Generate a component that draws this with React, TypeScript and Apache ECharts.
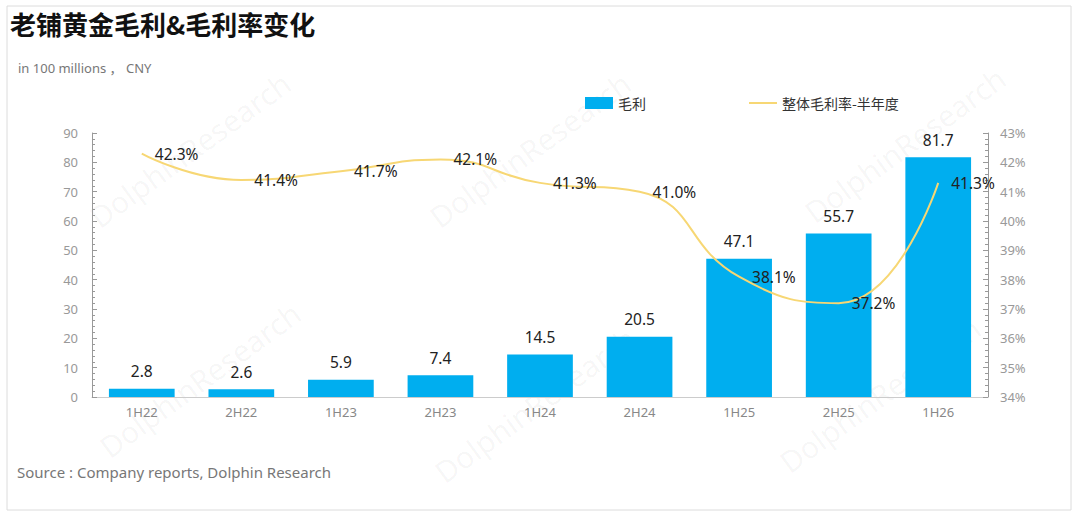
import React, { useEffect, useRef } from "react";
import * as echarts from "echarts";

const categories = ["1H22", "2H22", "1H23", "2H23", "1H24", "2H24", "1H25", "2H25", "1H26"];
const grossProfit = [2.8, 2.6, 5.9, 7.4, 14.5, 20.5, 47.1, 55.7, 81.7];
const grossMargin = [42.3, 41.4, 41.7, 42.1, 41.3, 41.0, 38.1, 37.2, 41.3];
const seriesNames = ["毛利", "整体毛利率-半年度"];

const watermarks = [
  [190, 150], [530, 150], [905, 145], [200, 380], [535, 405], [880, 395],
];

export default function App() {
  const ref = useRef<HTMLDivElement>(null);
  useEffect(() => {
    document.body.style.margin = "0";
    const chart = echarts.init(ref.current!, null, { renderer: "svg" });
    const font = "'Noto Sans', 'Noto Sans CJK SC', sans-serif";
    chart.setOption({
      animation: false,
      textStyle: { fontFamily: font },
      title: [
        {
          text: "老铺黄金毛利&毛利率变化",
          left: 10,
          top: 10,
          padding: 0,
          textStyle: { fontSize: 26, fontWeight: "bold", color: "#111", fontFamily: "'Noto Sans CJK SC', sans-serif" },
        },
        {
          text: "in 100 millions ， CNY",
          left: 18,
          top: 61,
          padding: 0,
          textStyle: { fontSize: 13, fontWeight: "normal", color: "#777", fontFamily: font },
        },
        {
          text: "Source : Company reports, Dolphin Research",
          left: 17,
          top: 464,
          padding: 0,
          textStyle: { fontSize: 15, fontWeight: "normal", color: "#777", fontFamily: font },
        },
      ],
      legend: {
        top: 96,
        left: 585,
        padding: 0,
        itemGap: 102,
        itemWidth: 28,
        itemHeight: 12,
        textStyle: { fontSize: 14, color: "#333", fontFamily: "'Noto Sans CJK SC', sans-serif" },
        data: [
          { name: seriesNames[0], icon: "rect" },
          { name: seriesNames[1], itemStyle: { opacity: 0 } },
        ],
      },
      graphic: [
        {
          type: "rect",
          shape: { x: 7, y: 6, width: 1064, height: 504 },
          style: { fill: "none", stroke: "#dcdcdc", lineWidth: 1 },
          silent: true,
          z: -10,
        },
        ...watermarks.map(([x, y]) => ({
          type: "text",
          x,
          y,
          rotation: Math.PI / 5,
          style: {
            text: "DolphinResearch",
            fill: "rgba(0,0,0,0.045)",
            fontSize: 30,
            fontFamily: font,
            align: "center",
            verticalAlign: "middle",
          },
          silent: true,
          z: -5,
        })),
      ],
      grid: { left: 92, right: 92, top: 133, bottom: 118 },
      xAxis: {
        type: "category",
        data: categories,
        axisLine: { lineStyle: { color: "#cccccc" } },
        axisTick: { show: false },
        axisLabel: { color: "#888", fontSize: 13, margin: 8 },
      },
      yAxis: [
        {
          type: "value",
          min: 0,
          max: 90,
          interval: 10,
          splitLine: { show: false },
          axisLine: { show: true, lineStyle: { color: "#999" } },
          axisTick: { show: true, inside: true, length: 5, lineStyle: { color: "#999" } },
          minorTick: { show: true, splitNumber: 5, length: 3, lineStyle: { color: "#999" } },
          axisLabel: { color: "#999", fontSize: 13, margin: 14 },
        },
        {
          type: "value",
          min: 34,
          max: 43,
          interval: 1,
          splitLine: { show: false },
          axisLine: { show: true, lineStyle: { color: "#999" } },
          axisTick: { show: true, inside: true, length: 5, lineStyle: { color: "#999" } },
          minorTick: { show: true, splitNumber: 5, length: 3, lineStyle: { color: "#999" } },
          axisLabel: { color: "#999", fontSize: 13, margin: 12, formatter: "{value}%" },
        },
      ],
      series: [
        {
          name: seriesNames[0],
          type: "bar",
          data: grossProfit,
          barWidth: "66%",
          itemStyle: { color: "#00AEEF" },
          label: {
            show: true,
            position: "top",
            distance: 10,
            color: "#222",
            fontSize: 15.5,
            formatter: (p: any) => p.value.toFixed(1),
          },
        },
        {
          name: seriesNames[1],
          type: "line",
          yAxisIndex: 1,
          data: grossMargin,
          smooth: 0.5,
          symbol: "circle",
          symbolSize: 0,
          showSymbol: true,
          lineStyle: { color: "#F7D774", width: 2 },
          itemStyle: { color: "#F7D774" },
          label: {
            show: true,
            position: "right",
            distance: 13,
            color: "#222",
            fontSize: 15.5,
            formatter: (p: any) => p.value.toFixed(1) + "%",
          },
          z: 5,
        },
      ],
    });
    return () => chart.dispose();
  }, []);
  return <div ref={ref} style={{ width: 1080, height: 515 }} />;
}
